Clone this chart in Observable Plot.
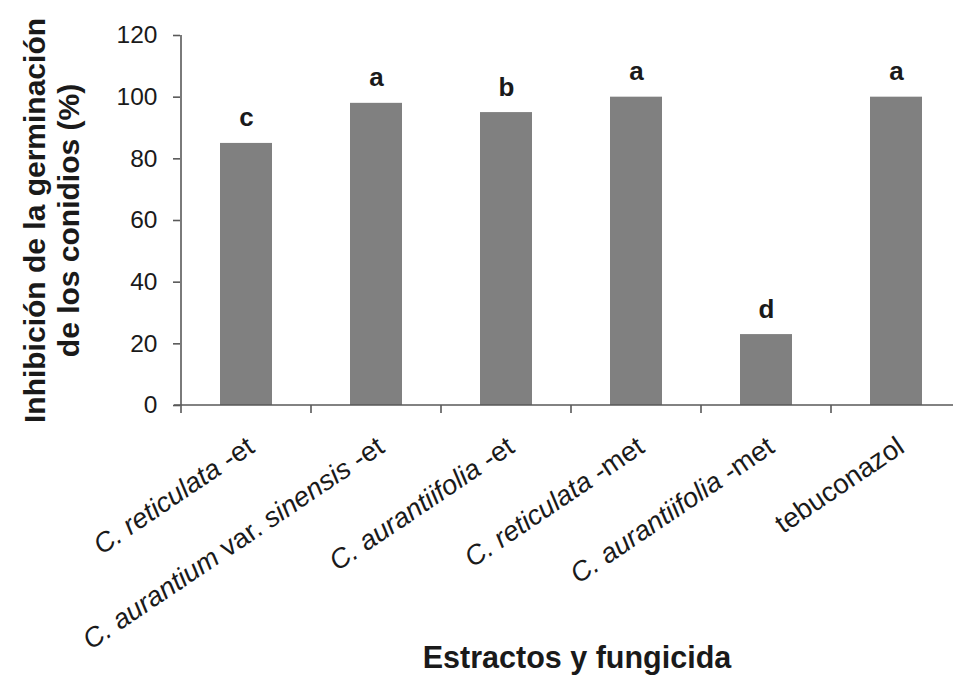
<!DOCTYPE html>
<html>
<head>
<meta charset="utf-8">
<script src="https://cdn.jsdelivr.net/npm/d3@7"></script>
<script src="https://cdn.jsdelivr.net/npm/@observablehq/plot@0.6"></script>
<style>
  html, body { margin: 0; padding: 0; background: #ffffff; overflow: hidden; }
  #chart text { white-space: pre; }
</style>
</head>
<body>
<div id="chart"></div>
<script>
// ---- data ----
const categories = [
  "C. reticulata -et",
  "C. aurantium var. sinensis -et",
  "C. aurantiifolia -et",
  "C. reticulata -met",
  "C. aurantiifolia -met",
  "tebuconazol"
];
// label pieces: [text, italic?]
const labelParts = [
  [["C. reticulata", true], [" -et", false]],
  [["C. aurantium", true], [" var. ", false], ["sinensis", true], [" -et", false]],
  [["C. aurantiifolia", true], [" -et", false]],
  [["C. reticulata", true], [" -met", false]],
  [["C. aurantiifolia", true], [" -met", false]],
  [["tebuconazol", false]]
];
const values = [85, 98, 95, 100, 23, 100];
const letters = ["c", "a", "b", "a", "d", "a"];
const yTicks = [0, 20, 40, 60, 80, 100, 120];
const yTitle = "Inhibición de la germinación\nde los conidios (%)";
const xTitle = "Estractos y fungicida";

// ---- style ----
const FONT = "'Liberation Sans', Arial, Helvetica, sans-serif";
const AXIS = "#595959";
const TEXT = "#1a1a1a";
const BAR = "#808080";

const rows = categories.map((c, i) => ({cat: c, value: values[i], letter: letters[i]}));

// custom x axis: boundary ticks + mixed-style rotated labels; also y axis line
function xAxisMark(index, scales) {
  const x = scales.x, y = scales.y;
  const bw = x.bandwidth ? x.bandwidth() : 0;
  const step = x(categories[1]) - x(categories[0]);
  const y0 = y(0);
  const g = d3.create("svg:g");
  const centers = categories.map(c => x(c) + bw / 2);
  const bounds = centers.map(c => c - step / 2).concat([centers[centers.length - 1] + step / 2]);
  // y axis line
  g.append("line")
    .attr("x1", bounds[0]).attr("x2", bounds[0])
    .attr("y1", y(120)).attr("y2", y0)
    .attr("stroke", AXIS).attr("stroke-width", 1.6);
  // x axis line
  g.append("line")
    .attr("x1", bounds[0] - 7).attr("x2", bounds[bounds.length - 1])
    .attr("y1", y0).attr("y2", y0)
    .attr("stroke", AXIS).attr("stroke-width", 1.6);
  g.append("g").selectAll("line").data(bounds).join("line")
    .attr("x1", d => d).attr("x2", d => d)
    .attr("y1", y0).attr("y2", y0 + 8)
    .attr("stroke", AXIS).attr("stroke-width", 1.6);
  const labels = g.append("g")
    .attr("font-family", FONT).attr("font-size", 27.5).attr("fill", TEXT)
    .selectAll("text").data(categories).join("text")
    .attr("text-anchor", "end")
    .attr("transform", (c, i) => `translate(${centers[i] + 10},${y0 + 46}) rotate(-34)`);
  labels.each(function (c, i) {
    const t = d3.select(this);
    labelParts[i].forEach(([s, it]) => {
      t.append("tspan").attr("font-style", it ? "italic" : "normal").text(s);
    });
  });
  return g.node();
}

const chart = Plot.plot({
  width: 953,
  height: 675,
  marginLeft: 180,
  marginRight: 0,
  marginTop: 35,
  marginBottom: 270,
  style: {fontFamily: FONT, background: "#ffffff", overflow: "hidden", color: TEXT},
  x: {type: "band", domain: categories, range: [180, 962], paddingInner: 0.6, paddingOuter: 0.3, axis: null},
  y: {domain: [0, 120], axis: null},
  marks: [
    Plot.barY(rows, {x: "cat", y: "value", fill: BAR}),
    Plot.axisY({ticks: yTicks, tickSize: 7, tickPadding: 16, fontSize: 24.5, stroke: AXIS, strokeWidth: 1.6, fill: TEXT, label: null, tickFormat: d => String(d)}),
    Plot.text(rows, {x: "cat", y: "value", text: "letter", dy: -17, lineAnchor: "bottom", fontSize: 26, fontWeight: "bold", fill: TEXT}),
    xAxisMark,
    Plot.text([yTitle], {frameAnchor: "left", textAnchor: "middle", rotate: -90, dx: -102, lineAnchor: "bottom", lineHeight: 1.12, fontSize: 30, fontWeight: "bold", fill: TEXT}),
    Plot.text([xTitle], {frameAnchor: "bottom", dx: 10, dy: 262, lineAnchor: "bottom", fontSize: 30.5, fontWeight: "bold", fill: TEXT})
  ]
});
document.getElementById("chart").appendChild(chart);
</script>
</body>
</html>
